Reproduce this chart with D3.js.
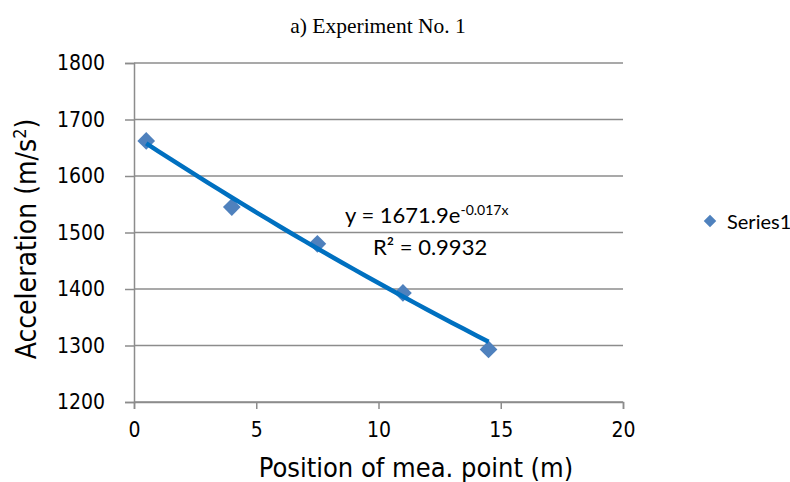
<!DOCTYPE html>
<html>
<head>
<meta charset="utf-8">
<script src="https://cdn.jsdelivr.net/npm/d3@7"></script>
<style>
  body { margin: 0; background: #fff; }
</style>
</head>
<body>
<svg class="chart"></svg>
<script>
// data
var positions = [0.5, 4, 7.5, 11, 14.5];
var accelerations = [1662, 1545, 1480, 1393, 1293];
var xTicks = [0, 5, 10, 15, 20];
var yTicks = [1200, 1300, 1400, 1500, 1600, 1700, 1800];
var trendCoef = [1671.9, -0.017]; // y = a * e^(b x), as printed on the chart
var seriesName = "Series1";

var margin = {top: 63, right: 167, bottom: 80, left: 134};
var chartWidth = 790 - margin.left - margin.right;
var chartHeight = 482 - margin.top - margin.bottom;

var svg = d3.select(".chart").attr("width", 790).attr("height", 482);
var chart = svg.append("g").attr("transform", "translate(" + margin.left + "," + margin.top + ")");

var x = d3.scaleLinear().domain([0, 20]).range([0, chartWidth]);
var y = d3.scaleLinear().domain([1200, 1800]).range([chartHeight, 0]);

var grey = "#8c8c8c";
var tickFont = "'DejaVu Sans Condensed', 'DejaVu Sans', sans-serif";
var calFont = "Lato, 'Open Sans', sans-serif";

// horizontal gridlines
chart.append("g")
  .selectAll("line")
  .data(yTicks)
  .enter().append("line")
  .attr("x1", 0).attr("x2", chartWidth)
  .attr("y1", function(d) { return y(d); })
  .attr("y2", function(d) { return y(d); })
  .attr("stroke", grey).attr("stroke-width", 1.5);

// x axis
var xAxis = chart.append("g")
  .attr("transform", "translate(0," + chartHeight + ")")
  .call(d3.axisBottom(x).tickValues(xTicks).tickFormat(d3.format("d")).tickSize(7).tickPadding(13));
xAxis.select(".domain").attr("stroke", grey).attr("stroke-width", 1.5);
xAxis.selectAll(".tick line").attr("stroke", grey).attr("stroke-width", 1.5);
xAxis.selectAll("text").style("font-family", tickFont).style("font-stretch", "condensed")
  .style("font-size", "21px").attr("fill", "#000");

// y axis
var yAxis = chart.append("g")
  .call(d3.axisLeft(y).tickValues(yTicks).tickFormat(d3.format("d")).tickSize(9).tickPadding(20));
yAxis.select(".domain").attr("stroke", grey).attr("stroke-width", 1.5);
yAxis.selectAll(".tick line").attr("stroke", grey).attr("stroke-width", 1.5);
yAxis.selectAll("text").style("font-family", tickFont).style("font-stretch", "condensed")
  .style("font-size", "21px").attr("fill", "#000");

// markers
var diamond = d3.symbol().type(d3.symbolDiamond2).size(200);
chart.append("g")
  .selectAll("path")
  .data(positions)
  .enter().append("path")
  .attr("d", diamond)
  .attr("transform", function(d, i) { return "translate(" + x(d) + "," + y(accelerations[i]) + ")"; })
  .attr("fill", "#4f81bd");

// exponential trendline from the printed equation
var xs = d3.range(positions[0], positions[positions.length - 1] + 0.001, 0.5);
var line = d3.line()
  .x(function(d) { return x(d); })
  .y(function(d) { return y(trendCoef[0] * Math.exp(trendCoef[1] * d)); });
chart.append("path")
  .datum(xs)
  .attr("d", line)
  .attr("fill", "none")
  .attr("stroke", "#0070c0")
  .attr("stroke-width", 4.5);

// equation labels
var eq = chart.append("text")
  .attr("x", 211).attr("y", 160)
  .style("font-family", calFont).style("font-size", "22px").attr("fill", "#000");
eq.append("tspan").text("y = 1671.9e");
eq.append("tspan").attr("dy", -8).style("font-size", "14px").text("-0.017x");

chart.append("text")
  .attr("x", 239).attr("y", 192)
  .style("font-family", calFont).style("font-size", "22px").attr("fill", "#000")
  .text("R\u00b2 = 0.9932");

// title
svg.append("text")
  .attr("x", 378).attr("y", 33)
  .style("text-anchor", "middle")
  .style("font-family", "'Liberation Serif', 'Times New Roman', serif")
  .style("font-size", "21.5px")
  .text("a) Experiment No. 1");

// axis titles
svg.append("text")
  .attr("x", 416).attr("y", 477)
  .style("text-anchor", "middle")
  .style("font-family", tickFont).style("font-stretch", "condensed").style("font-size", "27px")
  .text("Position of mea. point (m)");

var yt = svg.append("text")
  .attr("transform", "translate(36,239) rotate(-90)")
  .style("text-anchor", "middle")
  .style("font-family", tickFont).style("font-stretch", "condensed").style("font-size", "28px");
yt.append("tspan").text("Acceleration (m/s");
yt.append("tspan").attr("dy", -10).style("font-size", "18px").text("2");
yt.append("tspan").attr("dy", 10).text(")");

// legend
var legend = svg.append("g").attr("transform", "translate(710,221)");
legend.append("path")
  .attr("d", d3.symbol().type(d3.symbolDiamond2).size(100))
  .attr("fill", "#4f81bd");
legend.append("text")
  .attr("x", 17).attr("y", 8)
  .style("font-family", calFont).style("font-size", "20px")
  .text(seriesName);
</script>
</body>
</html>
